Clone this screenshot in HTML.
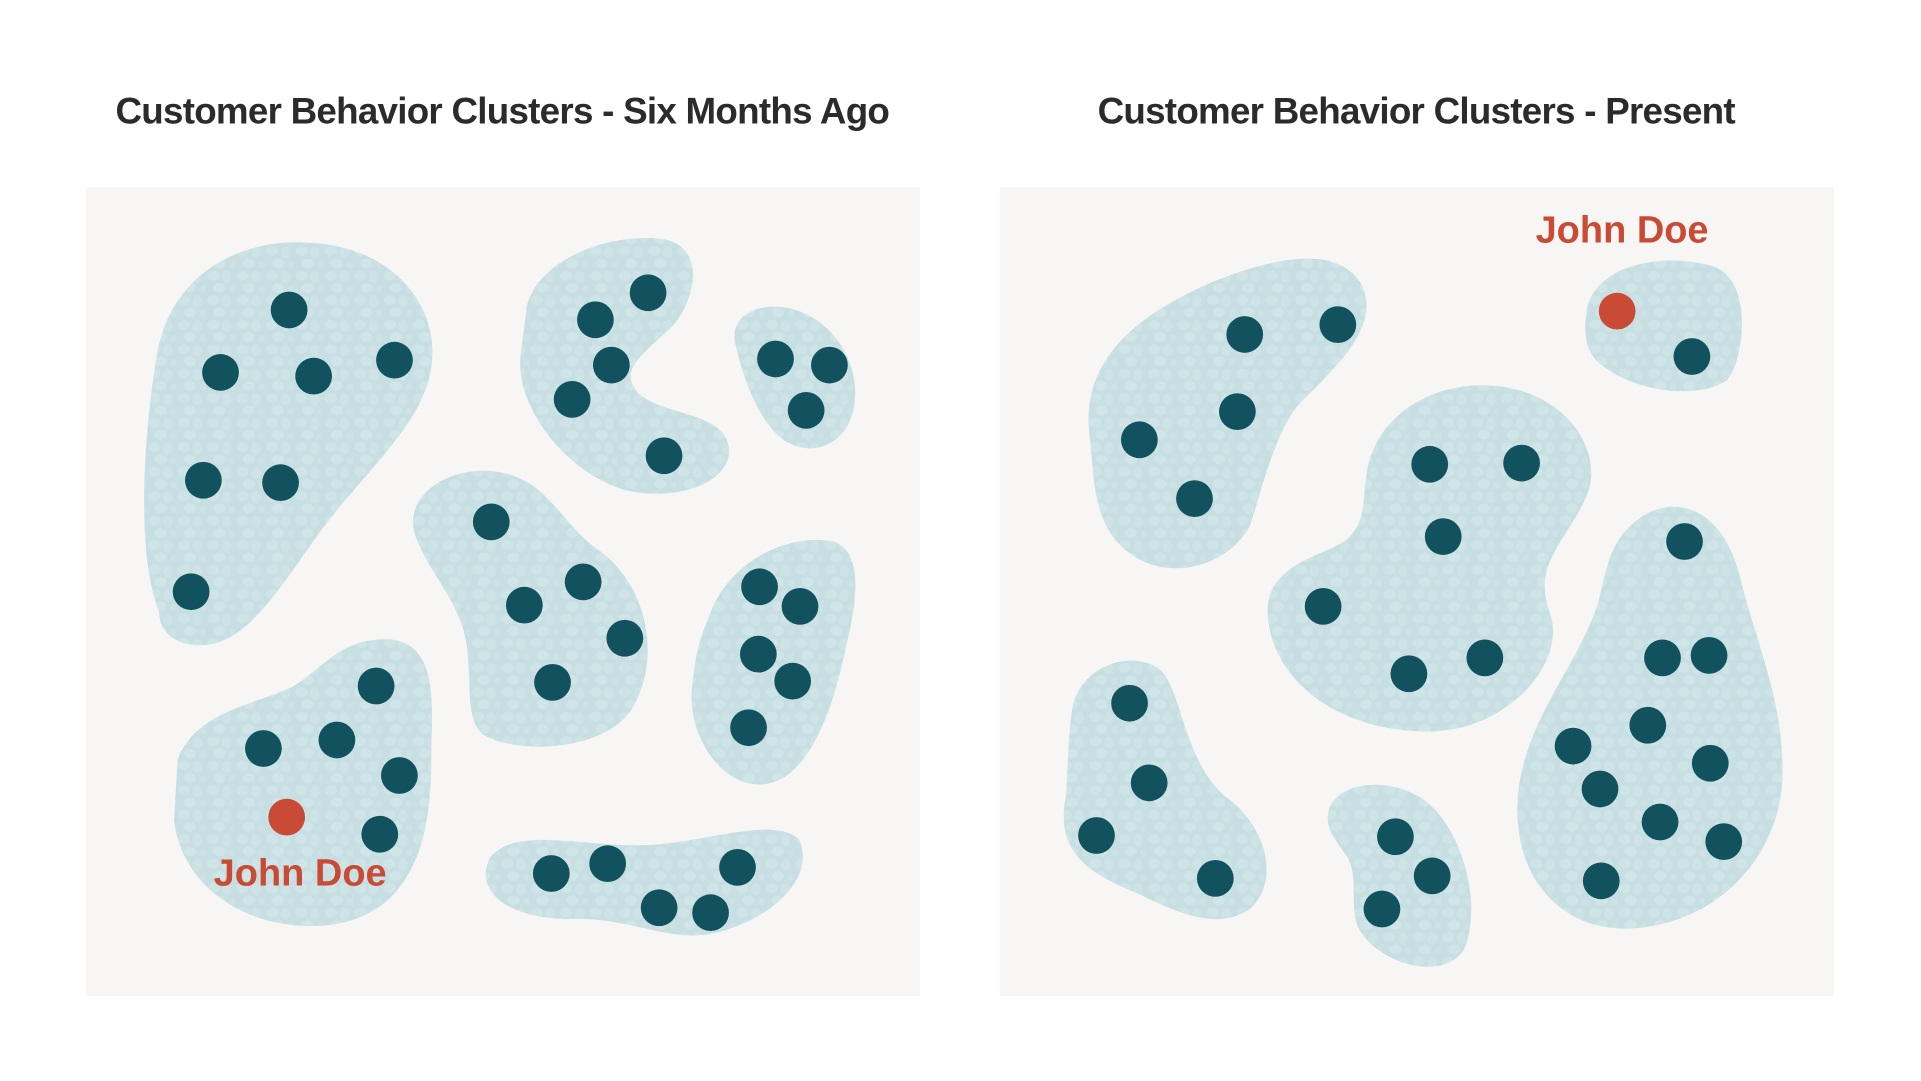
<!DOCTYPE html>
<html><head><meta charset="utf-8"><style>
html,body{margin:0;padding:0;background:#fff;width:1921px;height:1081px;overflow:hidden}
svg{display:block}
text{font-family:"Liberation Sans",sans-serif}
</style></head><body>
<svg width="1921" height="1081" viewBox="0 0 1568 882.4" preserveAspectRatio="none">
<defs>
<pattern id="tex" width="24" height="20" patternUnits="userSpaceOnUse">
<rect width="24" height="20" fill="#c7dfe2"/>
<ellipse cx="6" cy="5" rx="5" ry="4" fill="#cfe4e7"/>
<ellipse cx="17" cy="6" rx="4" ry="5" fill="#cde3e6"/>
<ellipse cx="11" cy="15" rx="5" ry="4" fill="#d0e5e7"/>
<ellipse cx="22" cy="16" rx="3" ry="3" fill="#cde2e5"/>
</pattern>
</defs>
<rect x="0" y="0" width="1568" height="882.4" fill="#fff"/>
<text x="410" y="101" font-size="30" font-weight="bold" letter-spacing="-0.6" fill="#2b2b2b" text-anchor="middle">Customer Behavior Clusters - Six Months Ago</text>
<text x="1156" y="101" font-size="30" font-weight="bold" letter-spacing="-0.6" fill="#2b2b2b" text-anchor="middle">Customer Behavior Clusters - Present</text>
<rect x="70" y="153" width="681" height="660" fill="#f7f6f5"/>
<rect x="816" y="153" width="681" height="660" fill="#f7f6f5"/>
<g fill="url(#tex)">
<path d="M130,500 C110,450 118,350 128,290 C140,220 200,195 250,198 C320,200 360,250 352,300 C345,350 290,390 250,450 C215,500 190,535 150,525 C135,520 130,510 130,500 Z"/>
<path d="M430,250 C440,210 500,190 540,195 C575,200 570,240 550,265 C525,290 505,300 520,320 C540,340 590,335 595,365 C598,395 550,410 510,400 C460,385 420,330 425,290 Z"/>
<path d="M600,280 C595,255 625,243 655,255 C690,270 705,310 695,340 C685,370 650,375 630,350 C612,328 605,300 600,280 Z"/>
<path d="M340,440 C325,405 370,375 415,387 C450,397 460,430 490,450 C530,480 540,540 515,580 C490,615 420,615 395,600 C375,585 390,540 375,505 C365,480 350,465 340,440 Z"/>
<path d="M580,500 C595,460 640,435 680,442 C705,450 700,490 690,530 C680,580 660,635 625,640 C590,645 560,600 565,560 C568,530 572,520 580,500 Z"/>
<path d="M145,620 C160,580 210,575 240,560 C270,540 280,520 320,522 C360,528 352,580 352,620 C352,680 340,745 270,755 C210,762 150,730 142,670 Z"/>
<path d="M400,700 C420,675 470,690 520,690 C570,690 630,665 652,685 C665,710 640,745 590,760 C550,772 520,750 470,750 C420,752 385,730 400,700 Z"/>
<path d="M890,360 C880,300 920,260 990,230 C1040,210 1090,200 1110,230 C1130,265 1090,300 1060,330 C1040,355 1030,400 1020,430 C1000,465 950,475 920,450 C895,430 893,400 890,360 Z"/>
<path d="M1295,255 C1300,215 1360,205 1400,218 C1430,230 1425,290 1410,310 C1390,325 1340,322 1310,300 C1295,290 1292,275 1295,255 Z"/>
<path d="M1115,390 C1120,340 1170,310 1220,315 C1280,320 1310,370 1295,405 C1280,440 1250,460 1265,500 C1280,540 1230,600 1160,597 C1090,595 1040,555 1035,505 C1030,460 1080,455 1100,440 C1115,425 1112,410 1115,390 Z"/>
<path d="M1330,430 C1360,400 1405,410 1420,470 C1435,530 1455,570 1455,630 C1455,700 1400,755 1330,758 C1270,760 1230,710 1240,640 C1250,580 1290,540 1305,490 C1312,460 1315,445 1330,430 Z"/>
<path d="M875,580 C880,545 920,530 945,545 C965,560 965,620 1000,650 C1035,675 1045,720 1020,742 C995,760 960,745 930,730 C895,715 860,700 870,650 C872,620 872,600 875,580 Z"/>
<path d="M1085,660 C1095,635 1140,635 1165,655 C1195,680 1210,740 1195,775 C1180,800 1130,790 1110,760 C1100,740 1110,720 1100,700 C1090,685 1080,675 1085,660 Z"/>
</g>
<g fill="#12525f">
<circle cx="236" cy="253" r="15"/><circle cx="180" cy="304" r="15"/><circle cx="256" cy="307" r="15"/><circle cx="322" cy="294" r="15"/><circle cx="166" cy="392" r="15"/><circle cx="229" cy="394" r="15"/><circle cx="156" cy="483" r="15"/>
<circle cx="486" cy="261" r="15"/><circle cx="529" cy="239" r="15"/><circle cx="499" cy="298" r="15"/><circle cx="467" cy="326" r="15"/><circle cx="542" cy="372" r="15"/>
<circle cx="633" cy="293" r="15"/><circle cx="677" cy="298" r="15"/><circle cx="658" cy="335" r="15"/>
<circle cx="401" cy="426" r="15"/><circle cx="476" cy="475" r="15"/><circle cx="428" cy="494" r="15"/><circle cx="510" cy="521" r="15"/><circle cx="451" cy="557" r="15"/>
<circle cx="620" cy="479" r="15"/><circle cx="653" cy="495" r="15"/><circle cx="619" cy="534" r="15"/><circle cx="647" cy="556" r="15"/><circle cx="611" cy="594" r="15"/>
<circle cx="307" cy="560" r="15"/><circle cx="215" cy="611" r="15"/><circle cx="275" cy="604" r="15"/><circle cx="326" cy="633" r="15"/><circle cx="310" cy="681" r="15"/>
<circle cx="450" cy="713" r="15"/><circle cx="496" cy="705" r="15"/><circle cx="538" cy="741" r="15"/><circle cx="580" cy="745" r="15"/><circle cx="602" cy="708" r="15"/>
<circle cx="1016" cy="273" r="15"/><circle cx="1092" cy="265" r="15"/><circle cx="1010" cy="336" r="15"/><circle cx="930" cy="359" r="15"/><circle cx="975" cy="407" r="15"/>
<circle cx="1381" cy="291" r="15"/>
<circle cx="1167" cy="379" r="15"/><circle cx="1242" cy="378" r="15"/><circle cx="1178" cy="438" r="15"/><circle cx="1080" cy="495" r="15"/><circle cx="1150" cy="550" r="15"/><circle cx="1212" cy="537" r="15"/>
<circle cx="1375" cy="442" r="15"/><circle cx="1357" cy="537" r="15"/><circle cx="1395" cy="535" r="15"/><circle cx="1345" cy="592" r="15"/><circle cx="1284" cy="609" r="15"/><circle cx="1306" cy="644" r="15"/><circle cx="1396" cy="623" r="15"/><circle cx="1355" cy="671" r="15"/><circle cx="1407" cy="687" r="15"/><circle cx="1307" cy="719" r="15"/>
<circle cx="922" cy="574" r="15"/><circle cx="938" cy="639" r="15"/><circle cx="895" cy="682" r="15"/><circle cx="992" cy="717" r="15"/>
<circle cx="1139" cy="683" r="15"/><circle cx="1169" cy="715" r="15"/><circle cx="1128" cy="742" r="15"/>
</g>
<g fill="#c94a35">
<circle cx="234" cy="667" r="15"/>
<circle cx="1320" cy="254" r="15"/>
<text x="245" y="723" font-size="31" font-weight="bold" text-anchor="middle">John Doe</text>
<text x="1324" y="198" font-size="31" font-weight="bold" text-anchor="middle">John Doe</text>
</g>
</svg>
</body></html>
